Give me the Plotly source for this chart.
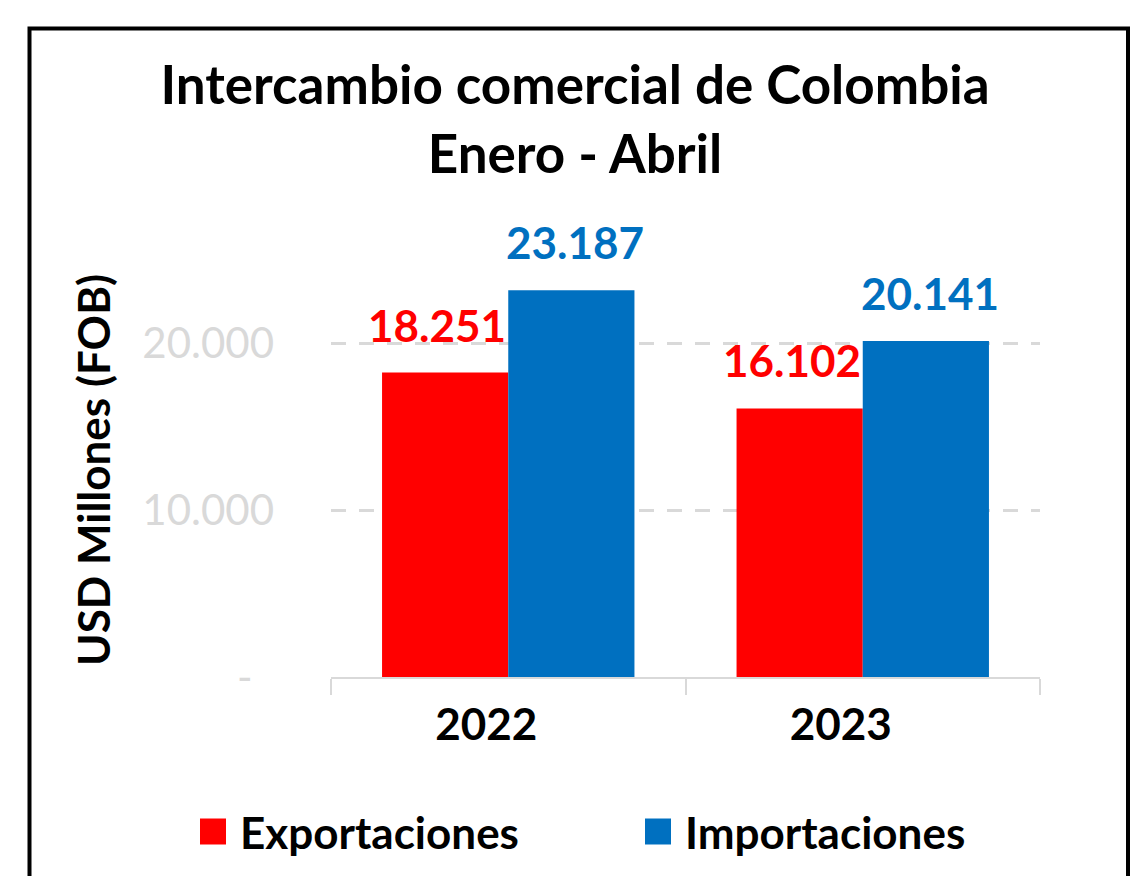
import plotly.graph_objects as go

categories = ["2022", "2023"]
exportaciones = [18251, 16102]
importaciones = [23187, 20141]
series_names = ["Exportaciones", "Importaciones"]
series_colors = ["#FF0000", "#0070C0"]
ytick_vals = [0, 10000, 20000]
ytick_text = ["-\u00a0\u00a0", "10.000", "20.000"]

FONT = "Lato"
OFF = 8  # page body margin
W, H = 1138 - OFF, 876 - OFF
L, R, T, B = 331 - OFF, 98, 260 - OFF, 199
pw, ph = W - L - R, H - T - B


def px(x):
    return (x - OFF - L) / pw


def py(y):
    return (T + ph - (y - OFF)) / ph


def fmt(v):
    return f"{v:,}".replace(",", ".")


fig = go.Figure()
series_vals = [exportaciones, importaciones]
for name, vals, col in zip(series_names, series_vals, series_colors):
    fig.add_trace(go.Bar(x=categories, y=vals, name=name, marker_color=col,
                         marker_line_width=0, showlegend=False))

# data labels
label_shift = [-71, 67]
for vals, col, xs in zip(series_vals, series_colors, label_shift):
    for i, v in enumerate(vals):
        fig.add_annotation(x=i, y=v, text=fmt(v), showarrow=False,
                           xshift=xs, yshift=20, yanchor="bottom",
                           font=dict(family=FONT, size=44, color=col, weight="bold"))

# y-axis title
fig.add_annotation(xref="paper", yref="paper", x=px(93), y=py(470),
                   text="USD Millones (FOB)", textangle=-90, showarrow=False,
                   xanchor="center", yanchor="middle",
                   font=dict(family=FONT, size=44, color="black", weight="bold"))

# legend (manual, larger swatches)
leg_x = [200, 645]
leg_y = 831.5
sq = 26
for name, col, lx in zip(series_names, series_colors, leg_x):
    fig.add_shape(type="rect", xref="paper", yref="paper",
                  x0=px(lx), x1=px(lx + sq), y0=py(leg_y + sq / 2), y1=py(leg_y - sq / 2),
                  fillcolor=col, line_width=0)
    fig.add_annotation(xref="paper", yref="paper", x=px(lx + sq + 12), y=py(leg_y),
                       text=name, showarrow=False, xanchor="left", yanchor="middle",
                       font=dict(family=FONT, size=44, color="black", weight="bold"))

# outer frame
fig.add_shape(type="rect", xref="paper", yref="paper",
              x0=px(29.5), x1=px(1128), y0=py(910), y1=py(28.5),
              line=dict(color="black", width=4), fillcolor="rgba(0,0,0,0)")

fig.update_layout(
    width=W, height=H,
    margin=dict(l=L, r=R, t=T, b=B, autoexpand=False),
    paper_bgcolor="white", plot_bgcolor="white",
    barmode="group", bargap=0.288, bargroupgap=0,
    separators=",.",
    title=dict(text="Intercambio comercial de Colombia<br>Enero - Abril",
               x=(575 - OFF) / W, xanchor="center", xref="container",
               y=1 - (104 - OFF) / H, yanchor="top", yref="container",
               font=dict(family=FONT, size=53, color="black", weight="bold")),
    xaxis=dict(type="category", range=[-0.5, 1.5], tickson="boundaries",
               ticks="outside", ticklen=16,
               tickwidth=2, tickcolor="#D9D9D9", showline=True, linecolor="#D9D9D9",
               linewidth=2, showgrid=False, ticklabelshift=-22, ticklabelstandoff=8,
               tickfont=dict(family=FONT, size=44, color="black", weight="bold")),
    yaxis=dict(range=[0, 25000], tickvals=ytick_vals, ticktext=ytick_text,
               showline=False, zeroline=False, showgrid=True, gridcolor="#D9D9D9",
               gridwidth=2.5, griddash="15px,13px", ticks="", ticklabelstandoff=56,
               tickfont=dict(family=FONT, size=42, color="#D9D9D9")),
    showlegend=False,
)

fig.write_html("out.html")
